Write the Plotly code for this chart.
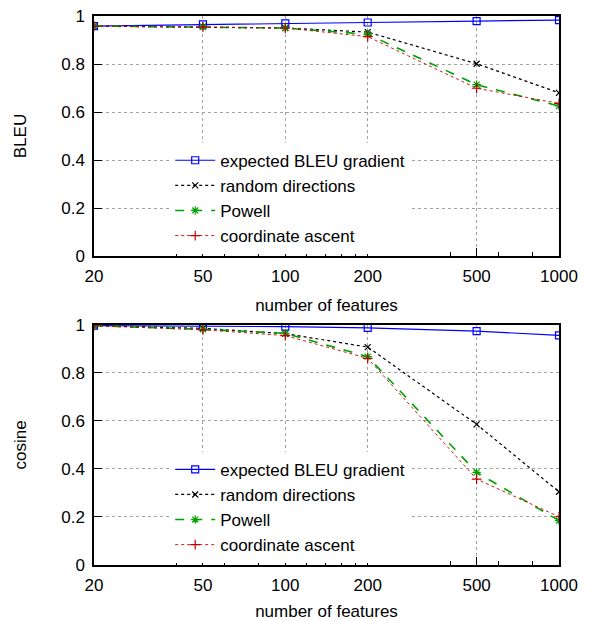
import plotly.graph_objects as go

features = [20, 50, 100, 200, 500, 1000]
x_tick_vals = [20, 50, 100, 200, 500, 1000]
x_minor_vals = [40, 60, 80, 120, 140, 160, 180, 400, 600, 800]

series_names = ["expected BLEU gradient", "random directions", "Powell", "coordinate ascent"]

bleu_expected = [0.958, 0.965, 0.969, 0.973, 0.979, 0.983]
bleu_random = [0.958, 0.955, 0.950, 0.933, 0.801, 0.680]
bleu_powell = [0.958, 0.955, 0.950, 0.924, 0.714, 0.625]
bleu_coord = [0.958, 0.955, 0.950, 0.914, 0.699, 0.636]

cos_expected = [0.997, 0.996, 0.993, 0.988, 0.974, 0.957]
cos_random = [0.997, 0.986, 0.964, 0.908, 0.586, 0.305]
cos_powell = [0.997, 0.982, 0.965, 0.868, 0.386, 0.185]
cos_coord = [0.997, 0.980, 0.956, 0.861, 0.358, 0.201]

styles = [
    dict(color="#0000ff", dash="solid", width=1.2, symbol="square-open", msize=7),
    dict(color="#000000", dash="dot", width=1.2, symbol="x-thin-open", msize=6),
    dict(color="#00a000", dash="dash", width=1.6, symbol="asterisk-open", msize=7),
    dict(color="#c00000", dash="dot", width=0.9, symbol="cross-thin-open", msize=7),
]

FONT = "Liberation Sans, Arial, Helvetica, sans-serif"
FS = 17

fig = go.Figure()

panels = [
    ("x", "y", "legend", [bleu_expected, bleu_random, bleu_powell, bleu_coord]),
    ("x2", "y2", "legend2", [cos_expected, cos_random, cos_powell, cos_coord]),
]
for xa, ya, lg, vals in panels:
    for name, v, s in zip(series_names, vals, styles):
        fig.add_trace(go.Scatter(
            x=features, y=v, name=name, mode="lines+markers",
            xaxis=xa, yaxis=ya, legend=lg,
            line=dict(color=s["color"], dash=s["dash"], width=s["width"]),
            marker=dict(symbol=s["symbol"], size=s["msize"], color=s["color"],
                        line=dict(color=s["color"], width=1.2)),
        ))

xaxis_common = dict(
    type="log", range=[1.30103, 3.0], tickvals=x_tick_vals,
    ticktext=[str(v) for v in x_tick_vals],
    ticks="inside", ticklen=8, tickcolor="black",
    minor=dict(tickvals=x_minor_vals, ticks="inside", ticklen=4, tickcolor="black", showgrid=False),
    showgrid=True, gridcolor="#a0a0a0", griddash="dot", gridwidth=1,
    showline=True, mirror=True, linecolor="black", linewidth=1.5,
    zeroline=False, tickfont=dict(size=FS, color="black", family=FONT),
    ticklabelstandoff=4, automargin=False,
    title=dict(text="number of features", font=dict(size=FS, color="black", family=FONT), standoff=14),
)
yaxis_common = dict(
    range=[0, 1], dtick=0.2, tick0=0,
    ticks="inside", ticklen=8, tickcolor="black",
    showgrid=True, gridcolor="#a0a0a0", griddash="dot", gridwidth=1,
    showline=True, mirror=True, linecolor="black", linewidth=1.5,
    zeroline=False, tickfont=dict(size=FS, color="black", family=FONT),
    ticklabelstandoff=4, automargin=False,
)

legend_common = dict(
    bgcolor="white", font=dict(size=FS, color="black", family=FONT),
    xanchor="right", yanchor="bottom", borderwidth=0,
    itemwidth=40, tracegroupgap=0,
)

fig.update_layout(
    width=597, height=621,
    margin=dict(l=94, r=38, t=16, b=56, autoexpand=False),
    paper_bgcolor="white", plot_bgcolor="white",
    font=dict(family=FONT, size=FS, color="black"),
    xaxis=dict(domain=[0, 1], anchor="y", **xaxis_common),
    yaxis=dict(domain=[0.5628, 1], anchor="x",
               title=dict(text="BLEU", font=dict(size=FS, family=FONT, color="black"), standoff=30),
               **yaxis_common),
    xaxis2=dict(domain=[0, 1], anchor="y2", **xaxis_common),
    yaxis2=dict(domain=[0, 0.4372], anchor="x2",
                title=dict(text="cosine", font=dict(size=FS, family=FONT, color="black"), standoff=30),
                **yaxis_common),
    legend=dict(x=0.68, y=0.567, **legend_common),
    legend2=dict(x=0.68, y=0.004, **legend_common),
    showlegend=True,
)

fig.write_html("out.html", config={"displayModeBar": False},
               post_script="document.body.style.margin='0';")
